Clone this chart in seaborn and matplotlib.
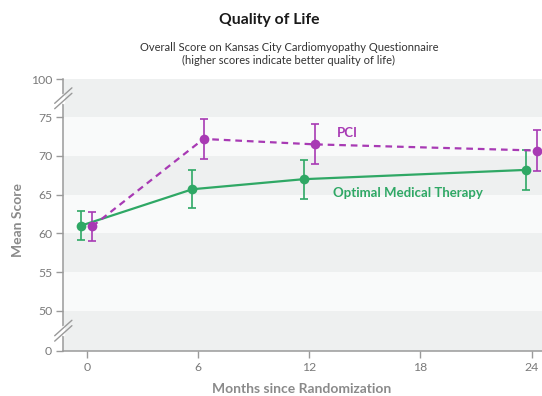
import numpy as np
import pandas as pd
import matplotlib
matplotlib.use("Agg")
import matplotlib.pyplot as plt
from matplotlib.transforms import blended_transform_factory
import seaborn as sns

# Mean KCCQ overall score by visit, with error bar half-widths
months = [0, 6, 12, 24]
omt_mean = [61.0, 65.7, 67.0, 68.2]
omt_err = [1.9, 2.45, 2.5, 2.6]
pci_mean = [60.9, 72.2, 71.5, 70.7]
pci_err = [1.9, 2.55, 2.6, 2.7]
groups = ["Optimal Medical Therapy", "PCI"]
y_ticks = [0, 50, 55, 60, 65, 70, 75, 100]
x_ticks = [0, 6, 12, 18, 24]

GREEN = "#2fa865"
PURPLE = "#a83ab4"
GRAY_TXT = "#7a7a7a"
SPINE = "#9a9a9a"

sns.set_theme(style="white")
plt.rcParams["font.family"] = ["Lato", "DejaVu Sans"]

# Broken y axis: compress 0-50 and 75-100
LOW = 5.17 / 50
HIGH = 4.91 / 25


def fwd(y):
    y = np.asarray(y, dtype=float)
    return np.where(y < 50, 50 - (50 - y) * LOW, np.where(y > 75, 75 + (y - 75) * HIGH, y))


def inv(v):
    v = np.asarray(v, dtype=float)
    return np.where(v < 50, 50 - (50 - v) / LOW, np.where(v > 75, 75 + (v - 75) / HIGH, v))


fig = plt.figure(figsize=(5.42, 3.96), dpi=100)
ax = fig.add_axes([63.3 / 542, 1 - 350.7 / 396, 1 - 63.3 / 542, (350.7 - 79.3) / 396])
ax.set_yscale("function", functions=(fwd, inv))

# Alternating horizontal bands
bands = [(0, 50, "#eef0f0"), (50, 55, "#f9fafa"), (55, 60, "#eef0f0"), (60, 65, "#f9fafa"),
         (65, 70, "#eef0f0"), (70, 75, "#f9fafa"), (75, 100, "#eef0f0")]
for lo, hi, c in bands:
    ax.axhspan(lo, hi, color=c, lw=0, zorder=0)

offset = {"Optimal Medical Therapy": -0.3, "PCI": 0.3}
df = pd.DataFrame({
    "month": months * 2,
    "score": omt_mean + pci_mean,
    "err": omt_err + pci_err,
    "group": [groups[0]] * len(months) + [groups[1]] * len(months),
})
df["xpos"] = df["month"] + df["group"].map(offset)

palette = {groups[0]: GREEN, groups[1]: PURPLE}
sns.lineplot(data=df, x="xpos", y="score", hue="group", style="group",
             palette=palette, dashes={groups[0]: "", groups[1]: (3, 2.2)},
             markers={groups[0]: "o", groups[1]: "o"}, markersize=7,
             markeredgewidth=0, linewidth=1.6, legend=False, ax=ax, zorder=4)
for g in groups:
    sub = df[df["group"] == g]
    ax.errorbar(sub["xpos"], sub["score"], yerr=sub["err"], fmt="none",
                ecolor=palette[g], elinewidth=1.2, capsize=3, capthick=1.2, zorder=3)

ax.set_xlim(-1.263, 24.556)
ax.set_ylim(0, 100)
ax.set_xticks(x_ticks)
ax.set_yticks(y_ticks)
ax.yaxis.set_major_formatter(matplotlib.ticker.FixedFormatter([str(t) for t in y_ticks]))
ax.minorticks_off()
ax.tick_params(axis="both", direction="out", length=5, width=1, color=SPINE,
               labelsize=8.8, labelcolor=GRAY_TXT, pad=3, left=True, bottom=True)
ax.set_xlabel("")
ax.set_ylabel("")
for s in ["top", "right"]:
    ax.spines[s].set_visible(False)
for s in ["left", "bottom"]:
    ax.spines[s].set_color(SPINE)
    ax.spines[s].set_linewidth(1.1)

# Axis-break marks on the y axis
tr_y = blended_transform_factory(ax.transAxes, ax.transData)
for ylo, yhi in ((75, 100), (0, 50)):
    ymid_v = (float(fwd(ylo)) + float(fwd(yhi))) / 2
    ax.plot([0.0, 0.0], [float(inv(ymid_v - 0.45)), float(inv(ymid_v + 0.45))],
            transform=tr_y, color="white", lw=2.5, clip_on=False, zorder=5)
    for dy in (-0.35, 0.35):
        ax.plot([-0.018, 0.018],
                [float(inv(ymid_v - 1.0 + dy)), float(inv(ymid_v + 1.0 + dy))],
                transform=tr_y, color=SPINE, lw=1.0, clip_on=False, zorder=6)

ax.text(13.5, 73.0, "PCI", color=PURPLE, fontsize=9.5, fontweight="bold",
        va="center", ha="left")
ax.text(13.3, 65.2, "Optimal Medical Therapy", color=GREEN, fontsize=9.5,
        fontweight="bold", va="center", ha="left")

fig.text(269 / 542, 1 - 20 / 396, "Quality of Life", ha="center", va="center",
         fontsize=11.3, fontweight="bold", color="#1a1a1a")
fig.text(289 / 542, 1 - 54 / 396,
         "Overall Score on Kansas City Cardiomyopathy Questionnaire\n(higher scores indicate better quality of life)",
         ha="center", va="center", fontsize=8.0, color="#333333", multialignment="center",
         linespacing=1.25)
fig.text(18 / 542, 1 - 220 / 396, "Mean Score", rotation=90, ha="center", va="center",
         fontsize=10, fontweight="bold", color="#8a8a8a")
fig.text(302 / 542, 1 - 389 / 396, "Months since Randomization", ha="center", va="center",
         fontsize=10, fontweight="bold", color="#8a8a8a")

fig.savefig("out.png", dpi=100, facecolor="white")
